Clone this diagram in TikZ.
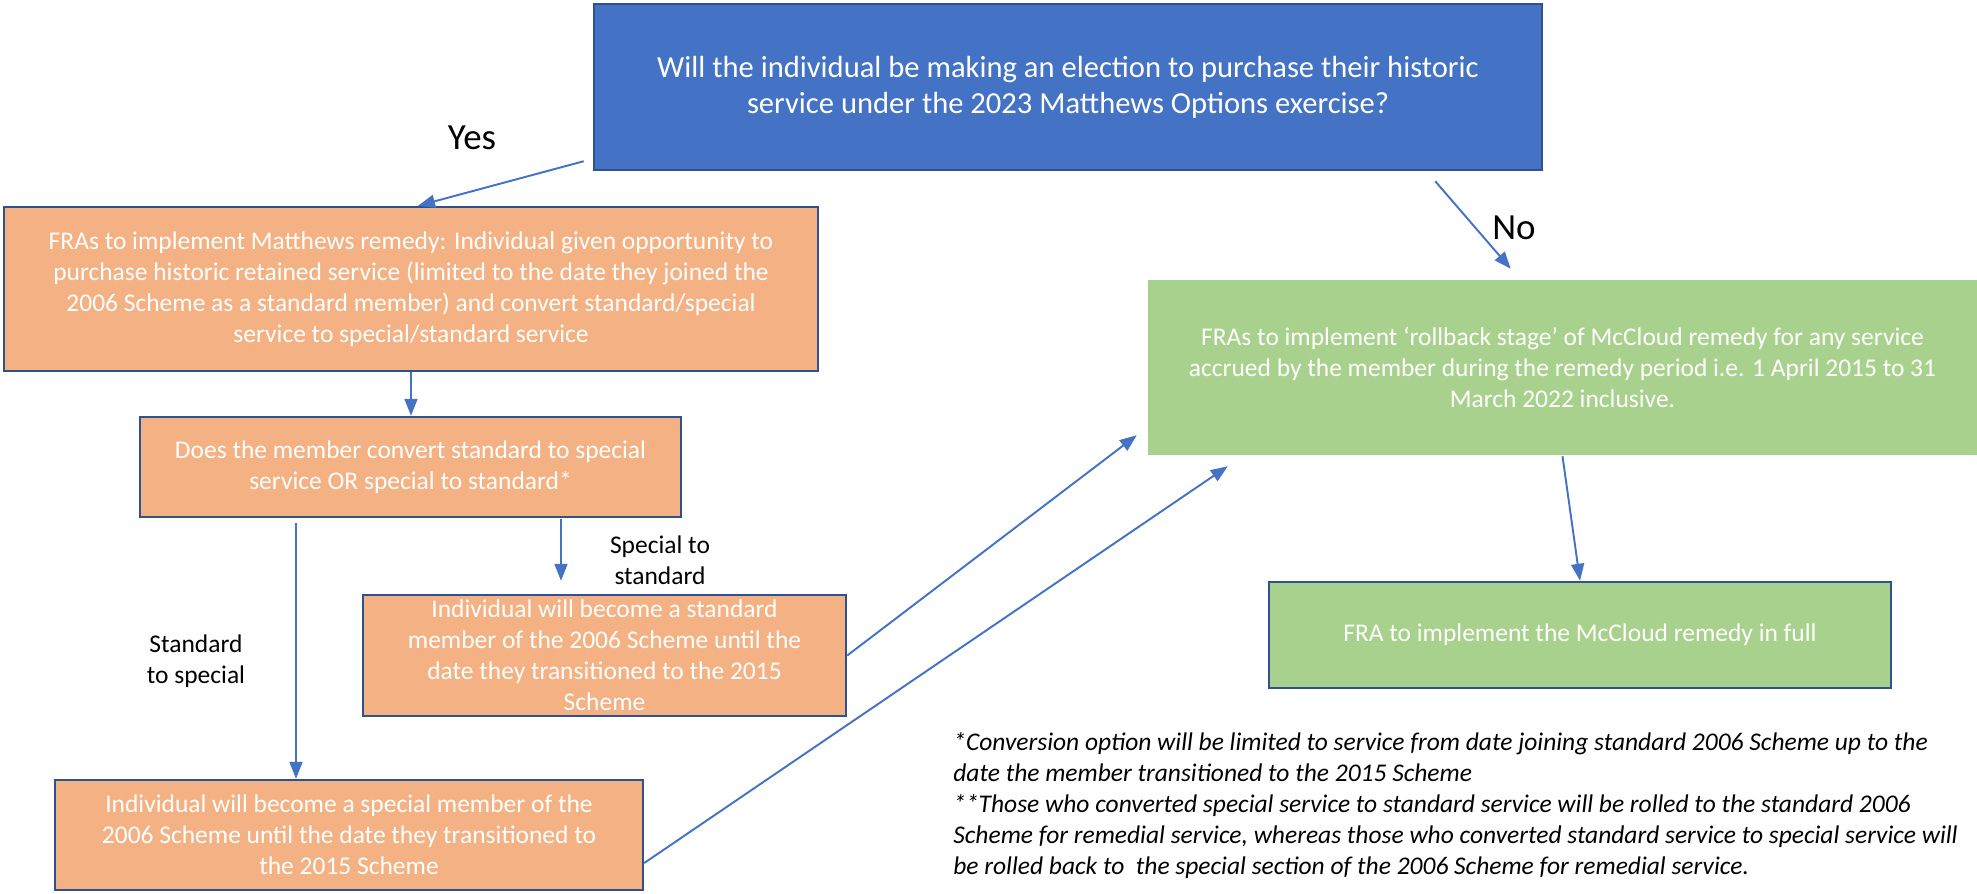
\documentclass[tikz,border=0pt]{standalone}
\usepackage{fontspec}
\setmainfont{Carlito}
\usetikzlibrary{arrows.meta}
\definecolor{qblue}{HTML}{4472C4}
\definecolor{edgeblue}{HTML}{2F528F}
\definecolor{peach}{HTML}{F4B183}
\definecolor{leaf}{HTML}{A9D18E}
\tikzset{
	box/.style={rectangle, draw=edgeblue, line width=1.4pt, text=white, align=center, inner sep=0pt, font=\fontsize{14.5}{17.6}\selectfont},
	lbl/.style={align=center, inner sep=0pt, font=\fontsize{14.5}{17.6}\selectfont},
	arr/.style={draw=qblue, line width=1.1pt, -{Triangle[length=0.34cm,width=0.26cm]}},
}

\begin{document}
\begin{tikzpicture}
			%%%%% START %%%%%
			\useasboundingbox (0,0) rectangle (39.54,17.86);
			
			\node[box, fill=qblue, minimum width=18.96cm, minimum height=3.32cm, font=\fontsize{17.4}{20.6}\selectfont] (question) at (21.36,16.12) {Will the individual be making an election to purchase their historic\\service under the 2023 Matthews Options exercise?};
			
			\node[box, fill=peach, minimum width=16.28cm, minimum height=3.28cm] (matthews) at (8.22,12.08) {FRAs to implement Matthews remedy: Individual given opportunity to\\purchase historic retained service (limited to the date they joined the\\2006 Scheme as a standard member) and convert standard/special\\service to special/standard service};
			\node[box, fill=peach, minimum width=10.82cm, minimum height=2cm] (convert) at (8.21,8.52) {Does the member convert standard to special\\service OR special to standard*};
			\node[box, fill=peach, minimum width=9.66cm, minimum height=2.42cm] (stdmem) at (12.09,4.75) {Individual will become a standard\\member of the 2006 Scheme until the\\date they transitioned to the 2015\\Scheme};
			\node[box, fill=peach, minimum width=11.76cm, minimum height=2.2cm] (spcmem) at (6.98,1.16) {Individual will become a special member of the\\2006 Scheme until the date they transitioned to\\the 2015 Scheme};
			
			\node[box, draw=none, fill=leaf, minimum width=16.58cm, minimum height=3.5cm] (rollback) at (31.25,10.51) {FRAs to implement `rollback stage' of McCloud remedy for any service\\accrued by the member during the remedy period i.e. 1 April 2015 to 31\\March 2022 inclusive.};
			\node[box, fill=leaf, minimum width=12.44cm, minimum height=2.12cm] (full) at (31.6,5.16) {FRA to implement the McCloud remedy in full};
			
			% answers and branch labels
			\node[inner sep=0pt, font=\fontsize{21}{25}\selectfont] (yes) at (9.44,15.1) {Yes};
			\node[inner sep=0pt, font=\fontsize{21}{25}\selectfont] (no) at (30.28,13.3) {No};
			\node[lbl] (tospc) at (3.92,4.64) {Standard\\to special};
			\node[lbl] (tostd) at (13.2,6.66) {Special to\\standard};
			
			\draw[arr] ([shift={(-0.18,0.2)}]question.south west) -- ([xshift=0.14cm]matthews.north);
			\draw[arr] ([shift={(-2.16,-0.2)}]question.south east) -- ([shift={(7.28,0.2)}]rollback.north west);
			\draw[arr] (matthews.south) -- (matthews.south |- convert.north);
			\draw[arr] ([shift={(-2.29,-0.1)}]convert.south) -- ([xshift=-1.06cm]spcmem.north);
			\draw[arr] ([shift={(3.01,-0.02)}]convert.south) -- ([shift={(-0.87,0.26)}]stdmem.north);
			\draw[arr] (stdmem.east) -- ([shift={(-0.2,0.42)}]rollback.south west);
			\draw[arr] ([yshift=-0.56cm]spcmem.east) -- ([shift={(1.62,-0.2)}]rollback.south west);
			\draw[arr] (rollback.south) -- (full.north);
			
			\node[anchor=north west, align=left, inner sep=0pt, font=\fontsize{14.5}{17.6}\selectfont\itshape] (notes) at (19.06,3.22) {*Conversion option will be limited to service from date joining standard 2006 Scheme up to the\\date the member transitioned to the 2015 Scheme\\**Those who converted special service to standard service will be rolled to the standard 2006\\Scheme for remedial service, whereas those who converted standard service to special service will\\be rolled back to \ the special section of the 2006 Scheme for remedial service.};
			%%%%% END %%%%%
\end{tikzpicture}
\end{document}
